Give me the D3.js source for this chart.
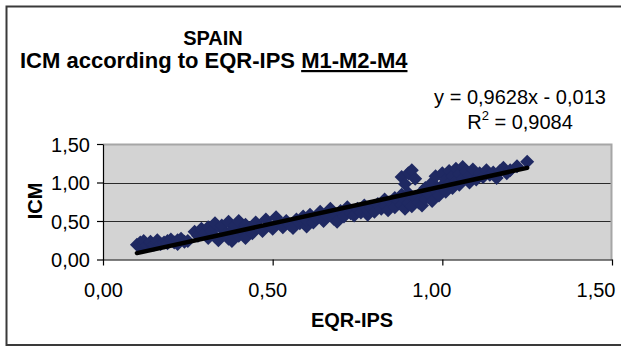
<!DOCTYPE html>
<html>
<head>
<meta charset="utf-8">
<script src="https://cdn.jsdelivr.net/npm/d3@7/dist/d3.min.js"></script>
<style>
  html, body { margin: 0; padding: 0; background: #fff; }
  svg { display: block; font-family: "Liberation Sans", Arial, Helvetica, sans-serif; }
</style>
</head>
<body>
<svg id="chart" width="621" height="347"></svg>
<script>
// EQR-IPS (x) against ICM (y), Spanish sites
const eqrIps = [
  0.10,0.11,0.11,0.12,0.12,0.13,0.14,0.14,0.15,0.16,0.16,0.17,0.18,0.19,0.19,0.20,0.21,0.22,0.22,0.23,0.24,0.25,
  0.27,0.28,0.29,0.30,0.31,0.31,0.32,0.33,0.33,0.34,0.35,0.35,0.36,0.37,0.37,0.38,0.38,0.39,0.40,0.40,0.41,0.42,0.42,0.43,0.44,0.45,0.46,0.47,
  0.48,0.49,0.50,0.51,0.52,0.53,0.54,0.55,0.56,0.57,0.58,0.59,0.60,0.60,0.61,0.62,0.63,0.64,0.65,0.66,0.67,0.68,0.68,0.69,0.70,0.71,0.72,0.73,0.74,0.75,
  0.76,0.77,0.78,0.78,0.79,0.80,0.81,0.82,0.83,0.83,0.84,0.85,0.86,0.86,0.87,0.88,0.88,0.89,0.89,0.90,0.90,
  0.88,0.90,0.91,0.92,0.89,
  0.91,0.92,0.93,0.94,0.94,0.95,0.95,0.96,0.97,0.97,0.98,0.98,0.99,1.00,1.00,1.01,1.01,1.02,1.02,1.03,1.03,1.04,1.04,1.05,1.05,
  1.06,1.06,1.07,1.08,1.08,1.09,1.10,1.11,1.12,1.13,1.14,1.15,1.16,1.17,1.18,1.19,1.20,1.22,1.25
];
const icm = [
  0.19,0.17,0.22,0.20,0.24,0.18,0.21,0.23,0.19,0.22,0.25,0.20,0.22,0.24,0.21,0.26,0.22,0.25,0.20,0.27,0.23,0.24,
  0.36,0.31,0.40,0.34,0.28,0.42,0.37,0.47,0.30,0.25,0.40,0.44,0.33,0.27,0.49,0.38,0.24,0.44,0.31,0.50,0.36,0.28,0.45,0.40,0.34,0.48,0.42,0.37,
  0.52,0.44,0.40,0.55,0.47,0.42,0.50,0.45,0.41,0.52,0.47,0.56,0.43,0.51,0.58,0.48,0.54,0.62,0.50,0.57,0.66,0.53,0.60,0.49,0.63,0.56,0.68,0.60,0.57,0.66,
  0.61,0.70,0.58,0.64,0.68,0.62,0.72,0.66,0.78,0.70,0.64,0.74,0.80,0.68,0.76,0.84,0.71,0.66,0.78,0.73,0.86,
  1.07,1.12,1.16,1.05,0.98,
  0.69,0.80,0.74,0.88,0.70,0.93,0.79,0.85,1.00,0.76,1.08,0.90,0.83,0.96,1.12,1.04,0.88,1.15,0.99,1.08,0.93,1.18,1.02,1.11,0.97,
  1.20,1.05,1.14,1.00,1.09,1.17,1.04,1.12,1.07,1.16,1.10,1.13,1.06,1.15,1.19,1.12,1.16,1.21,1.27
];

// Linear trendline and its fit statistics
const slope = 0.9628;
const intercept = -0.013;
const rSquared = 0.9084;

const xTicks = [0, 0.5, 1.0, 1.5];
const yTicks = [0, 0.5, 1.0, 1.5];

const titleLines = ["SPAIN", "ICM according to EQR-IPS "];
const titleUnderlined = "M1-M2-M4";
const xTitle = "EQR-IPS";
const yTitle = "ICM";

const fmt = v => d3.format(".2f")(v).replace(".", ",");
const fmtCoef = v => String(v).replace(".", ",");

const svg = d3.select("#chart");
const plot = { left: 103, right: 612, top: 144, bottom: 259.5 };

// outer chart frame
svg.append("rect")
  .attr("x", 6.5).attr("y", 6.5)
  .attr("width", 620).attr("height", 338.5)
  .attr("fill", "#fff").attr("stroke", "#3a3a3a").attr("stroke-width", 2);

const x = d3.scaleLinear().domain([0, 1.5]).range([plot.left, plot.right]);
const y = d3.scaleLinear().domain([0, 1.5]).range([plot.bottom, plot.top]);

// plot area
svg.append("rect")
  .attr("x", plot.left).attr("y", plot.top)
  .attr("width", plot.right - plot.left).attr("height", plot.bottom - plot.top)
  .attr("fill", "#d3d3d3");

// horizontal gridlines
svg.append("g")
  .selectAll("line")
  .data(yTicks.filter(t => t > 0 && t < 1.5))
  .join("line")
  .attr("x1", plot.left).attr("x2", plot.right)
  .attr("y1", d => Math.round(y(d)) + 0.5).attr("y2", d => Math.round(y(d)) + 0.5)
  .attr("stroke", "#2a2a2a").attr("stroke-width", 1);

// plot-area border (top and right)
svg.append("path")
  .attr("d", `M${plot.left},${plot.top + 0.5}H${plot.right - 0.5}V${plot.bottom}`)
  .attr("fill", "none").attr("stroke", "#a6a6a6").attr("stroke-width", 2);

// markers
const half = 7;
const diamond = `M0,${-half}L${half},0L0,${half}L${-half},0Z`;
const pts = eqrIps.map((v, i) => [v, icm[i]]);
svg.append("g")
  .selectAll("path")
  .data(pts)
  .join("path")
  .attr("d", diamond)
  .attr("transform", d => `translate(${x(d[0])},${y(d[1])})`)
  .attr("fill", "#1f2962");

// trendline over the data range
const xExt = d3.extent(eqrIps);
svg.append("line")
  .attr("x1", x(xExt[0])).attr("y1", y(slope * xExt[0] + intercept))
  .attr("x2", x(xExt[1])).attr("y2", y(slope * xExt[1] + intercept))
  .attr("stroke", "#000").attr("stroke-width", 4.5).attr("stroke-linecap", "round");

// axes
const xAxis = svg.append("g")
  .attr("transform", `translate(0,${plot.bottom})`)
  .call(d3.axisBottom(x).tickValues(xTicks).tickFormat(fmt).tickSize(6).tickSizeOuter(0));
xAxis.selectAll("text")
  .attr("dy", null).attr("y", 37)
  .attr("dx", d => -d * 11);

const yAxis = svg.append("g")
  .attr("transform", `translate(${plot.left},0)`)
  .call(d3.axisLeft(y).tickValues(yTicks).tickFormat(fmt).tickSize(6).tickSizeOuter(0));
yAxis.selectAll("text").attr("x", -13).attr("dy", "0.36em");

[xAxis, yAxis].forEach(g => {
  g.select(".domain").attr("stroke", "#000").attr("stroke-width", 1.2);
  g.selectAll(".tick line").attr("stroke", "#000").attr("stroke-width", 1.2);
  g.selectAll("text").attr("fill", "#000").style("font-size", "20px")
    .style("font-family", "'Liberation Sans', Arial, sans-serif");
});

// titles
svg.append("text")
  .attr("x", 213).attr("y", 45)
  .attr("text-anchor", "middle")
  .style("font-size", "20px").style("font-weight", "bold")
  .text(titleLines[0]);

const t2 = svg.append("text")
  .attr("x", 20).attr("y", 68)
  .style("font-size", "22px").style("font-weight", "bold");
t2.append("tspan").text(titleLines[1]);
t2.append("tspan").style("text-decoration", "underline").text(titleUnderlined);

svg.append("text")
  .attr("x", 352).attr("y", 327)
  .attr("text-anchor", "middle")
  .style("font-size", "20px").style("font-weight", "bold")
  .text(xTitle);

svg.append("text")
  .attr("transform", `translate(42,201) rotate(-90)`)
  .attr("text-anchor", "middle")
  .style("font-size", "20px").style("font-weight", "bold")
  .text(yTitle);

// trendline equation
const eq = svg.append("g");
eq.append("text")
  .attr("x", 520).attr("y", 104)
  .attr("text-anchor", "middle")
  .style("font-size", "20px")
  .text(`y = ${fmtCoef(slope)}x - ${fmtCoef(Math.abs(intercept))}`);
const r2 = eq.append("text")
  .attr("x", 520).attr("y", 129)
  .attr("text-anchor", "middle")
  .style("font-size", "20px");
r2.append("tspan").text("R");
r2.append("tspan").attr("dy", -9).style("font-size", "13px").text("2");
r2.append("tspan").attr("dy", 9).text(` = ${fmtCoef(rSquared)}`);
</script>
</body>
</html>
